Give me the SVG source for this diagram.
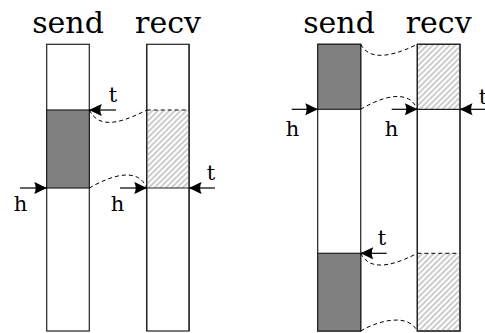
<svg xmlns="http://www.w3.org/2000/svg" width="485" height="333" viewBox="0 0 485 333">
  <style>
    .title { font-family: "DejaVu Serif", "Liberation Serif", serif; font-size: 30px; fill: #000; text-anchor: middle; }
    .lbl { font-family: "DejaVu Serif", "Liberation Serif", serif; font-size: 21px; fill: #000; text-anchor: middle; }
    .buf { fill: #fff; stroke: #222; stroke-width: 1.2; }
    .full { fill: #808080; stroke: #222; stroke-width: 1.2; }
    .hatch { fill: url(#nel); stroke: none; }
    .edge { stroke: #222; stroke-width: 1.2; fill: none; }
    .dash { stroke: #000; stroke-width: 1; fill: none; stroke-dasharray: 4 3; }
    .ptr { stroke: #000; stroke-width: 1.2; fill: none; marker-end: url(#tip); }
  </style>
  <defs>
    <pattern id="nel" width="4" height="4" patternUnits="userSpaceOnUse" patternTransform="rotate(45)">
      <line x1="2" y1="-1" x2="2" y2="5" stroke="#b8b8b8" stroke-width="1.4"/>
    </pattern>
    <marker id="tip" markerUnits="userSpaceOnUse" markerWidth="16" markerHeight="14" viewBox="-14 -7 16 14" refX="0" refY="0" orient="auto" overflow="visible">
      <path d="M0.5,0 C-3,-1.5 -8,-4 -12.5,-6 Q-9.5,0 -12.5,6 C-8,4 -3,1.5 0.5,0 Z" fill="#000"/>
    </marker>
  </defs>

  <!-- left pair: contiguous data in the middle of the buffer -->
  <g id="left-send">
    <text class="title" x="68" y="33">send</text>
    <rect class="buf" x="46.7" y="44.3" width="42.6" height="286.7"/>
    <rect class="full" x="46.7" y="110" width="42.6" height="78"/>
  </g>
  <g id="left-recv">
    <text class="title" x="168" y="33">recv</text>
    <rect class="buf" x="146.7" y="44.3" width="42.4" height="286.7"/>
    <rect class="hatch" x="146.7" y="110" width="42.4" height="78"/>
    <line class="edge" x1="146.7" y1="188" x2="189.1" y2="188"/>
    <line class="dash" x1="146.7" y1="110" x2="189.1" y2="110"/>
    <line class="edge" x1="146.7" y1="44.3" x2="146.7" y2="331"/>
    <line class="edge" x1="189.1" y1="44.3" x2="189.1" y2="331"/>
  </g>

  <!-- right pair: data wrapped around the buffer end -->
  <g id="right-send">
    <text class="title" x="339" y="33">send</text>
    <rect class="buf" x="317.7" y="44.3" width="43" height="286.7"/>
    <rect class="full" x="317.7" y="44.3" width="43" height="65"/>
    <rect class="full" x="317.7" y="253.3" width="43" height="77.7"/>
  </g>
  <g id="right-recv">
    <text class="title" x="438.7" y="33">recv</text>
    <rect class="buf" x="417.3" y="44.3" width="42.7" height="286.7"/>
    <rect class="hatch" x="417.3" y="44.3" width="42.7" height="65"/>
    <rect class="hatch" x="417.3" y="253.3" width="42.7" height="77.7"/>
    <line class="edge" x1="417.3" y1="109.3" x2="460" y2="109.3"/>
    <line class="dash" x1="417.3" y1="253.3" x2="460" y2="253.3"/>
    <rect class="edge" x="417.3" y="44.3" width="42.7" height="286.7"/>
  </g>

  <g id="connectors">
    <!-- left pair copies -->
    <path class="dash" d="M89.3,110 C97,125 112,128 146.7,110"/>
    <path class="dash" d="M89.3,188 C110,176 138,166 146.7,188"/>
    <!-- right pair copies -->
    <path class="dash" d="M360.7,44.3 C368,58 385,60 417.3,44.3"/>
    <path class="dash" d="M360.7,109.3 C381,97 409,88 417.3,109.3"/>
    <path class="dash" d="M360.7,253.3 C368,268 385,270 417.3,253.3"/>
    <path class="dash" d="M360.7,331 C381,319 409,314 417.3,331"/>

    <!-- head / tail pointers, left -->
    <line class="ptr" x1="20" y1="188" x2="46.7" y2="188"/>
    <line class="ptr" x1="116" y1="110" x2="89.3" y2="110"/>
    <line class="ptr" x1="120" y1="188" x2="146.7" y2="188"/>
    <line class="ptr" x1="215" y1="188" x2="189.1" y2="188"/>
    <!-- head / tail pointers, right -->
    <line class="ptr" x1="291.7" y1="109.3" x2="317.7" y2="109.3"/>
    <line class="ptr" x1="391.7" y1="109.3" x2="417.3" y2="109.3"/>
    <line class="ptr" x1="487" y1="109.3" x2="460" y2="109.3"/>
    <line class="ptr" x1="386.7" y1="253.3" x2="360.7" y2="253.3"/>
  </g>

  <g id="labels">
    <text class="lbl" x="20.5" y="211">h</text>
    <text class="lbl" x="113" y="102">t</text>
    <text class="lbl" x="117.5" y="211">h</text>
    <text class="lbl" x="211" y="180">t</text>
    <text class="lbl" x="292.5" y="136">h</text>
    <text class="lbl" x="391.5" y="136">h</text>
    <text class="lbl" x="483" y="104">t</text>
    <text class="lbl" x="382" y="245">t</text>
  </g>
</svg>
